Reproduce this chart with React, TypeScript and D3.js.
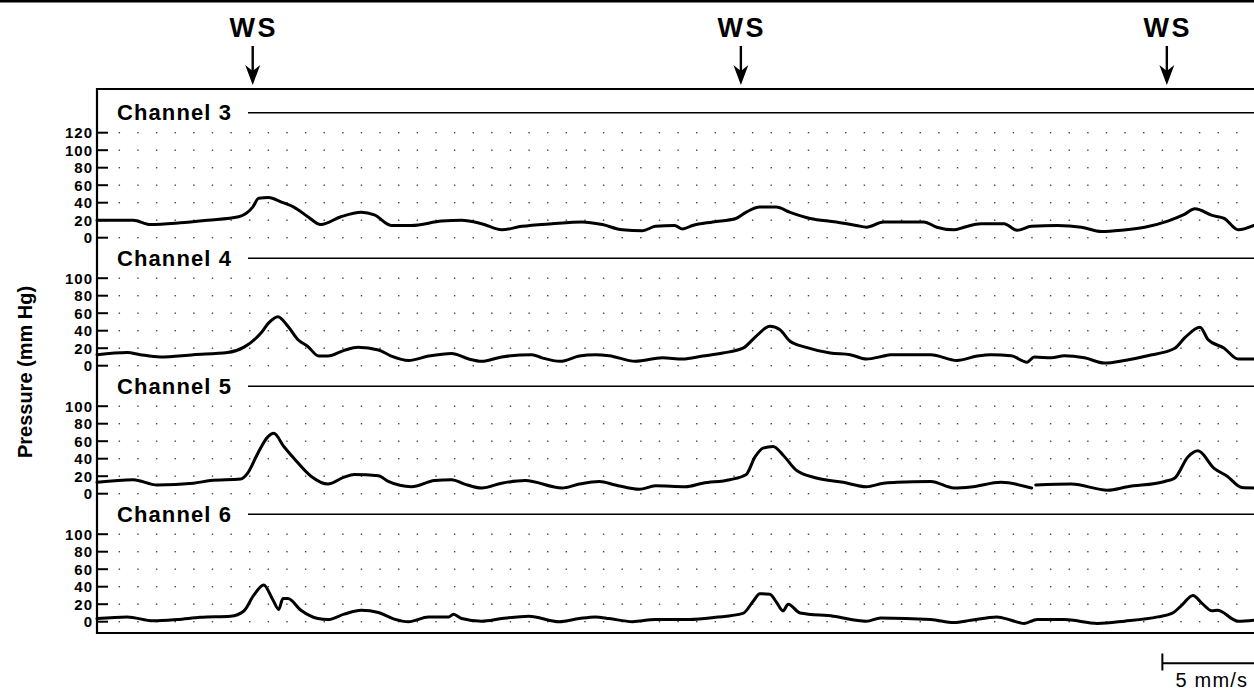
import React from 'react';
import * as d3 from 'd3';

// ---------- data ----------
const channelNames = ['Channel 3', 'Channel 4', 'Channel 5', 'Channel 6'];
const channelTopTick = [120, 100, 100, 100];
const tickStep = 20;
const wsTimes = [7.16, 33.37, 56.24];
const wsLabel = 'WS';
const yAxisTitle = 'Pressure (mm Hg)';
const scaleBarTimes = [56, 61];
const scaleBarLabel = '5 mm/s';
const gridColumns = d3.range(0, 62);
const timeDomain = [-1.2, 60.92];

type Pt = [number, number | null];

const ch3Trace: Pt[] = [
  [-1.2, 20], [0.74, 20], [1.66, 15], [3.27, 17], [4.73, 20], [6.4, 24], [7.16, 35], [7.48, 45], [8.02, 46],
  [8.67, 41], [9.37, 35], [10.12, 24], [10.82, 15], [11.9, 24], [12.99, 29], [13.69, 26], [14.6, 14], [15.68, 14],
  [17.3, 19], [18.38, 20], [19.45, 16], [20.53, 9], [21.61, 13], [23.23, 16], [24.85, 18], [25.93, 15], [27.01, 9],
  [28.09, 8], [28.78, 13], [29.81, 14], [30.24, 10], [30.78, 14], [31.86, 18], [33.1, 22], [33.64, 29], [34.39, 35],
  [35.26, 35], [36.01, 29], [37.09, 22], [38.49, 18], [39.57, 14], [40.11, 12], [41.03, 18], [43.19, 18], [43.89, 12],
  [44.81, 9], [45.35, 12], [46.26, 16], [47.5, 16], [48.2, 8.5], [48.96, 13], [50.36, 14], [51.66, 12], [52.73, 7],
  [53.81, 8.5], [55.05, 12], [56.29, 19], [57.21, 27], [57.75, 33], [58.67, 25.5], [59.32, 22], [60.07, 9], [60.92, 14],
];

const ch4Trace: Pt[] = [
  [-1.2, 12.6], [0.42, 15], [1.12, 12.6], [2.2, 10], [3.98, 12.6], [5.81, 15], [6.67, 21], [7.59, 37], [8.02, 49],
  [8.51, 56], [9.05, 45], [9.58, 30], [10.12, 22], [10.71, 11], [11.2, 11], [12.07, 17.5], [12.82, 21], [13.91, 18],
  [14.6, 11], [15.52, 6], [16.6, 11], [17.84, 14], [18.76, 7.6], [19.45, 5], [20.53, 10], [22.15, 12.6], [22.69, 9],
  [23.66, 5], [24.69, 11], [25.55, 12.6], [26.3, 11.4], [27.71, 5], [29.16, 9], [30.24, 7.6], [31.32, 11], [32.4, 14.5],
  [33.48, 20], [34.18, 33.5], [34.93, 45], [35.47, 41], [36.01, 28], [36.88, 21], [38.17, 14.5], [39.24, 12.6],
  [40.11, 7.6], [41.03, 11], [41.4, 12.6], [43.57, 12.6], [44.97, 6], [46.05, 11], [46.8, 12.6], [47.88, 11.4],
  [48.74, 4], [49.12, 10], [50.04, 9], [50.74, 11.4], [51.82, 9], [52.9, 3], [53.97, 6], [55.21, 11.4], [56.67, 20],
  [57.21, 32], [58.02, 44], [58.45, 30], [59.32, 20], [60.07, 7.6], [60.92, 7.6],
];

const ch5Trace: Pt[] = [
  [-1.2, 13], [0.74, 16], [2.03, 10], [3.98, 12], [4.89, 15], [6.51, 16.7], [6.89, 23.5], [7.43, 46], [7.97, 65],
  [8.29, 69], [8.83, 54], [9.37, 40.5], [10.29, 20], [11.2, 11], [12.07, 19], [12.61, 22], [13.91, 20.5], [14.44, 14],
  [15.68, 8], [16.92, 15], [17.84, 16], [18.54, 11], [19.45, 6.5], [20.53, 12], [21.78, 15], [23.77, 6.5], [24.69, 11],
  [25.77, 14], [26.63, 10], [27.92, 5], [28.78, 9], [30.4, 8], [31.32, 12], [32.78, 16], [33.64, 21.6], [34.13, 42],
  [34.56, 52], [35.1, 54], [35.64, 44], [36.34, 27], [37.42, 18], [38.87, 13], [40.11, 8], [41.03, 12], [41.73, 13],
  [43.57, 14], [44.81, 6.5], [45.72, 7.6], [47.34, 13], [48.98, 6.5], [49.08, null], [49.2, 10], [51.12, 11],
  [53.06, 4], [54.13, 8], [56.13, 14], [56.67, 18], [57.37, 42], [57.91, 49], [58.78, 29], [59.48, 20], [60.28, 7],
  [60.92, 6.5],
];

const ch6Trace: Pt[] = [
  [-1.2, 3.6], [0.42, 5.5], [1.82, 1], [3.11, 2.5], [4.35, 5], [5.97, 6.3], [6.67, 12], [7.21, 30], [7.75, 42],
  [8.24, 25], [8.56, 14], [8.78, 26.5], [9.05, 26.5], [9.75, 13], [10.66, 3.6], [11.2, 2.5], [12.07, 8.6], [12.99, 13],
  [13.91, 10.5], [14.76, 3], [15.52, 0], [16.6, 5.5], [17.68, 5.5], [17.94, 8.6], [18.38, 3.6], [19.45, 0.6],
  [20.53, 3.6], [21.99, 6.3], [23.61, 0], [24.69, 3.6], [25.55, 5.5], [26.3, 3.6], [27.55, 0], [28.78, 2.5],
  [30.62, 2.5], [32.02, 5], [33.48, 9.5], [34.02, 23], [34.39, 32], [34.93, 31.5], [35.26, 23], [35.64, 12.4],
  [35.91, 20], [36.55, 10], [38.33, 6.3], [40.11, 0.6], [40.87, 4.3], [43.57, 2.5], [44.81, -1], [45.72, 1.7],
  [47.12, 5.5], [47.88, 1.7], [48.58, -2], [49.28, 2.5], [50.74, 2.5], [52.52, -2], [53.97, 0.6], [55.75, 5.5],
  [56.51, 9.4], [57.05, 19], [57.64, 30], [58.13, 21], [58.67, 12.4], [58.95, 13], [60.07, 0.6], [60.92, 1.7],
];

const channelTraces = [ch3Trace, ch4Trace, ch5Trace, ch6Trace];

// ---------- layout ----------
const W = 1254;
const H = 691;
const plotLeft = 97;
const plotRight = 1254;
const frameTop = 89;
const frameBottom = 633;
const pxPerUnit = 0.875;
const firstLabelY = 112.7;
const bandGap = 20.5;
const FONT = "'Liberation Sans', Arial, Helvetica, sans-serif";

export default function App() {
  const x = d3.scaleLinear().domain(timeDomain).range([plotLeft, plotRight]);

  const bands: { labelY: number; y: d3.ScaleLinear<number, number>; ticks: number[] }[] = [];
  let labelY = firstLabelY;
  channelTopTick.forEach((top) => {
    const zero = labelY + 2.5 + (top + tickStep) * pxPerUnit;
    const y = d3.scaleLinear().domain([0, top]).range([zero, zero - top * pxPerUnit]);
    bands.push({ labelY, y, ticks: d3.range(0, top + 1, tickStep) });
    labelY = zero + bandGap;
  });

  const titleCenterY = (bands[1].y(100) + bands[2].y(0)) / 2 - 14;

  return (
    <svg
      width={W}
      height={H}
      viewBox={`0 0 ${W} ${H}`}
      style={{ position: 'absolute', left: 0, top: 0, background: '#fff' }}
      fontFamily={FONT}
    >
      <rect x={0} y={0} width={W} height={H} fill="#fff" />
      {/* scan border at top */}
      <line x1={0} x2={W} y1={1.3} y2={1.3} stroke="#000" strokeWidth={2.6} />

      {/* WS markers */}
      {wsTimes.map((t, i) => {
        const cx = x(t);
        return (
          <g key={'ws' + i}>
            <text x={cx + 1} y={37.3} textAnchor="middle" fontSize={27} fontWeight="bold" letterSpacing={2.5}>
              {wsLabel}
            </text>
            <line x1={cx} x2={cx} y1={46} y2={78} stroke="#000" strokeWidth={2.4} />
            <path d={`M${cx - 7.5},65 L${cx},85 L${cx + 7.5},65 L${cx},71 Z`} fill="#000" />
          </g>
        );
      })}

      {/* frame */}
      <line x1={plotLeft} x2={plotRight} y1={frameTop} y2={frameTop} stroke="#000" strokeWidth={2} />
      <line x1={plotLeft} x2={plotRight} y1={frameBottom} y2={frameBottom} stroke="#000" strokeWidth={2} />
      <line x1={plotLeft} x2={plotLeft} y1={frameTop - 1} y2={frameBottom + 1} stroke="#000" strokeWidth={2.2} />

      {/* y title */}
      <text
        transform={`translate(32,${titleCenterY}) rotate(-90)`}
        textAnchor="middle"
        fontSize={20}
        fontWeight="bold"
      >
        {yAxisTitle}
      </text>

      {bands.map((b, ci) => (
        <g key={'ch' + ci}>
          {b.ticks.map((v) =>
            gridColumns.map((c) => (
              <rect
                key={`d${v}-${c}`}
                x={x(c) - 0.7}
                y={b.y(v) - 0.7}
                width={1.4}
                height={1.4}
                fill="#444"
              />
            ))
          )}
          <text x={117} y={b.labelY + 7.6} fontSize={22} fontWeight="bold" letterSpacing={1.1}>
            {channelNames[ci]}
          </text>
          <line x1={248} x2={plotRight} y1={b.labelY} y2={b.labelY} stroke="#000" strokeWidth={1.6} />
          {b.ticks.map((v) => (
            <g key={'t' + v}>
              <line x1={plotLeft} x2={108} y1={b.y(v)} y2={b.y(v)} stroke="#000" strokeWidth={2} />
              <text
                x={93}
                y={b.y(v)}
                dy="0.36em"
                textAnchor="end"
                fontSize={15}
                fontWeight="bold"
                letterSpacing={1}
              >
                {v}
              </text>
            </g>
          ))}
          <path
            d={
              d3
                .line<Pt>()
                .defined((d) => d[1] !== null)
                .curve(d3.curveMonotoneX)
                .x((d) => x(d[0]))
                .y((d) => b.y(d[1] as number))(channelTraces[ci]) || ''
            }
            fill="none"
            stroke="#000"
            strokeWidth={3}
            strokeLinejoin="round"
            strokeLinecap="round"
          />
        </g>
      ))}

      {/* scale bar */}
      <g>
        <line x1={x(scaleBarTimes[0])} x2={x(scaleBarTimes[1]) + 2} y1={663.3} y2={663.3} stroke="#000" strokeWidth={2} />
        <line x1={x(scaleBarTimes[0])} x2={x(scaleBarTimes[0])} y1={653.5} y2={670.5} stroke="#000" strokeWidth={2} />
        <line x1={x(scaleBarTimes[1]) + 2} x2={x(scaleBarTimes[1]) + 2} y1={653.5} y2={670.5} stroke="#000" strokeWidth={2} />
        <text
          x={(x(scaleBarTimes[0]) + x(scaleBarTimes[1])) / 2 + 3}
          y={686.5}
          textAnchor="middle"
          fontSize={20}
          letterSpacing={1.2}
        >
          {scaleBarLabel}
        </text>
      </g>
    </svg>
  );
}
